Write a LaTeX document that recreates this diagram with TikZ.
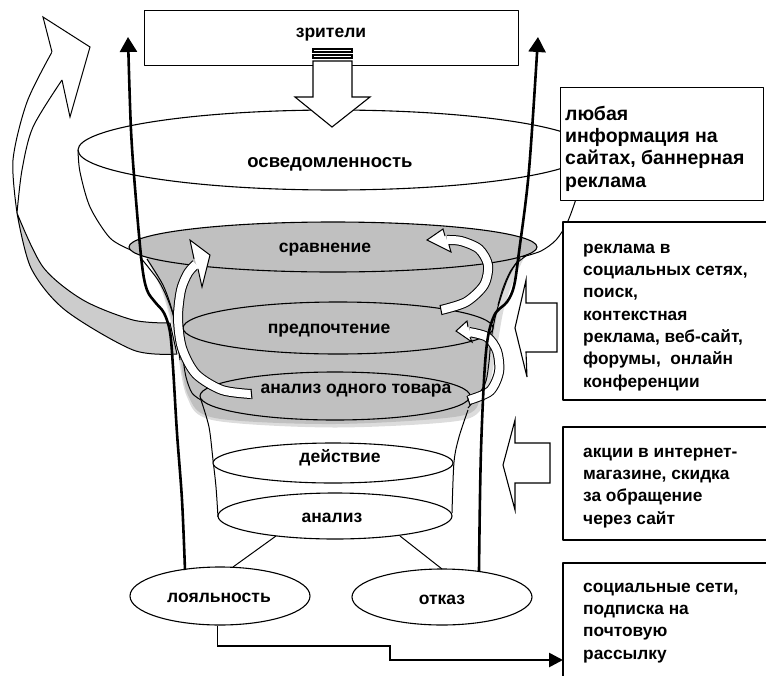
\documentclass[tikz,border=0pt]{standalone}
\usepackage{fontspec}
\setmainfont{Liberation Sans}
\usetikzlibrary{shapes.geometric,arrows.meta}
\definecolor{fgray}{HTML}{C0C0C0}
\definecolor{agray}{HTML}{CCCCCC}
\definecolor{sgray}{HTML}{DCDCDC}
\begin{document}
\begin{tikzpicture}[x=1pt,y=-1pt,line join=round,
  txt/.style={font=\bfseries\fontsize{17.5}{22}\selectfont, inner sep=0pt, anchor=base},
  btxt/.style={font=\bfseries\fontsize{17.3}{22.3}\selectfont, inner sep=0pt, align=left, anchor=north west},
  ell/.style={draw, ellipse, line width=1.1pt, inner sep=0pt},
  thinl/.style={line width=1pt},
  thickarr/.style={line width=2.6pt, -{Triangle[length=15pt,width=17pt]}},
  blockarr/.style={draw, fill=white, line width=1.1pt, line join=miter},
  rbox/.style={draw, fill=white, line width=1.1pt},
  shaftout/.style={line width=10pt, line cap=butt},
  shaftin/.style={line width=8pt, white, line cap=butt},
]
\useasboundingbox (0,0) rectangle (766,675);

% ---------- big curved arrow on the left ----------
\filldraw[fill=agray, thinl] plot[smooth] coordinates {(17,213) (31,268) (65,310) (133,350) (177,354)} -- (170,323) -- plot[smooth] coordinates {(170,323) (133,320) (83,300) (43,267) (17,213)} -- cycle;
\filldraw[fill=white, thinl] plot[smooth] coordinates {(52,52) (27,102) (13,160) (17,213)} -- plot[smooth] coordinates {(17,213) (22,170) (33,127) (62,80)};
\fill[white] (43,17) -- (90,47) -- (70,117) -- (62,80) -- (52,52) -- cycle;
\draw[thinl, line join=miter] (52,52) -- (43,17) -- (90,47) -- (70,117) -- (62,80);

% ---------- awareness bowl ----------
\node[ell, minimum width=512pt, minimum height=80pt] (osv) at (334,150) {};
\draw[thinl] plot[smooth] coordinates {(78,150) (80,172) (90,207) (110,238) (131,250)};
\draw[thinl] plot[smooth] coordinates {(580,185) (575,202) (567,223) (556,240) (541,251) (522,257)};

% ---------- gray funnel body ----------
\draw[sgray, line width=7pt] plot[smooth] coordinates {(150,258) (166,292) (179,340) (190,395) (215,417) (335,424) (460,417) (482,397) (492,355) (500,310) (510,280) (520,258)};
\fill[fgray] plot[smooth] coordinates {(145,255) (163,290) (177,340) (188,395) (215,418) (335,424) (460,416) (481,396) (490,355) (498,310) (508,280) (522,255)} -- cycle;
\node[ell, fill=fgray, minimum width=408pt, minimum height=50pt] (sravn) at (333,247) {};
\draw[thinl] plot[smooth] coordinates {(140,257) (158,280) (168,300) (177,327) (182,353) (186,377) (192,393) (201,400)};
\draw[thinl] plot[smooth] coordinates {(147,259) (163,285) (172,310) (177,337) (180,360)};
\draw[thinl] plot[smooth] coordinates {(526,256) (515,265) (507,280) (500,300) (495,318) (491,340) (489,362) (486,381) (479,394) (468,408)};
\draw[thinl] plot[smooth] coordinates {(520,258) (510,272) (503,288) (498,305)};
\node[ell, fill=fgray, minimum width=310pt, minimum height=52pt] (pred) at (338,328) {};
\node[ell, fill=fgray, minimum width=270pt, minimum height=48pt] (odin) at (335,396) {};

% ---------- lower cylinder ----------
\draw[thinl] plot[smooth] coordinates {(201,400) (209,427) (213,460) (216,487) (218,517)};
\draw[thinl] plot[smooth] coordinates {(468,410) (459,437) (454,462) (452,513)};
\node[ell, fill=white, minimum width=240pt, minimum height=40pt] (deys) at (333,463) {};
\node[ell, fill=white, minimum width=234pt, minimum height=46pt] (anal) at (335,516) {};
\node[ell, fill=white, minimum width=180pt, minimum height=58pt] (loy) at (220,596) {};
\node[ell, fill=white, minimum width=180pt, minimum height=56pt] (otk) at (442,597) {};

\coordinate (an1) at (276,536);
\coordinate (lo1) at (233,567);
\coordinate (an2) at (400,536);
\coordinate (ot1) at (442,569);
\draw[thinl] (an1) -- (lo1);
\draw[thinl] (an2) -- (ot1);

% bottom connector to the last box
\coordinate (lo2) at (217,646);
\coordinate (st1) at (390,646);
\coordinate (st2) at (390,660);
\coordinate (bx4) at (563,660);
\draw[thinl] (loy.south) ++(-3,0) -- ++(0,20);
\draw[line width=2.6pt, line join=miter, -{Triangle[length=14pt,width=14pt]}] (lo2) -- (st1) -- (st2) -- (bx4);

% ---------- curved white arrows in the funnel ----------
\draw[shaftout] plot[smooth] coordinates {(251,394) (222,390) (196,374) (182,348) (178,318) (181,290) (188,273) (196,264)};
\draw[shaftin] plot[smooth] coordinates {(251,394) (222,390) (196,374) (182,348) (178,318) (181,290) (188,273) (196,264)};
\draw[thinl] (251,389) -- (252,399);
\fill[white] (190,240) -- (210,255) -- (202,287) -- cycle;
\draw[thinl, line join=miter] (194,259) -- (190,240) -- (210,255) -- (202,287) -- (198,269);
\draw[shaftout] plot[smooth] coordinates {(441,310) (466,302) (484,285) (488,265) (479,249) (461,241) (447,240)};
\draw[shaftin] plot[smooth] coordinates {(441,310) (466,302) (484,285) (488,265) (479,249) (461,241) (447,240)};
\draw[thinl] (440,305) -- (442,315);
\fill[white] (443,229) -- (427,240) -- (451,252) -- cycle;
\draw[thinl, line join=miter] (445,236) -- (443,229) -- (427,240) -- (451,252) -- (449,245);
\draw[shaftout] plot[smooth] coordinates {(469,400) (490,391) (499,372) (497,351) (487,337) (469,332)};
\draw[shaftin] plot[smooth] coordinates {(469,400) (490,391) (499,372) (497,351) (487,337) (469,332)};
\draw[thinl] (467,396) -- (470,405);
\fill[white] (467,321) -- (456,331) -- (472,342) -- cycle;
\draw[thinl, line join=miter] (468,327) -- (467,321) -- (456,331) -- (472,342) -- (470,337);

% ---------- long thick arrows ----------
\coordinate (lup) at (128,37);
\coordinate (rup) at (538,37);
\draw[thickarr] plot[smooth, tension=0.55] coordinates {(185,570) (182,500) (177,433) (173,367) (170,332) (164,313) (155,302) (147,290) (142,265) (136,200) (131,130) (lup)};
\draw[thickarr] plot[smooth, tension=0.55] coordinates {(479,571) (481,450) (486,352) (494,316) (507,302) (514,286) (519,252) (529,170) (rup)};

% ---------- block arrows pointing left ----------
\draw[blockarr] (557,303) -- (526,303) -- (526,280) -- (515,328) -- (527,377) -- (526,352) -- (557,352) -- cycle;
\draw[blockarr] (550,443) -- (515,443) -- (515,420) -- (503,465) -- (515,510) -- (515,483) -- (550,483) -- cycle;

% ---------- top box and arrow ----------
\node[rbox, minimum width=374pt, minimum height=55pt, anchor=north west] (zrit) at (144,10) {};
\draw[blockarr] (313,61) -- (352,61) -- (352,97) -- (370,97) -- (332,127) -- (295,97) -- (313,97) -- cycle;
\draw[blockarr] (313,49) rectangle (352,52);
\draw[blockarr] (313,55) rectangle (352,58);

% ---------- right boxes ----------
\node[rbox, minimum width=203pt, minimum height=113pt, anchor=north west] (b1) at (560,87) {};
\fill[white] (563,222) rectangle (766,400);
\draw[line width=1.1pt] (766,222) -- (563,222) -- (563,400) -- (766,400);
\fill[white] (563,427) rectangle (766,540);
\draw[line width=1.1pt] (766,427) -- (563,427) -- (563,540) -- (766,540);
\draw[line width=1.1pt] (766,563) -- (563,563) -- (563,676);

% ---------- texts ----------
\node[txt] (tz) at (331,37) {зрители};
\node[txt, font=\bfseries\fontsize{18.5}{22}\selectfont] (t1) at (330,167) {осведомленность};
\node[txt] (t2) at (325,252) {сравнение};
\node[txt] (t3) at (329,333) {предпочтение};
\node[txt] (t4) at (356,393) {анализ одного товара};
\node[txt] (t5) at (340,462) {действие};
\node[txt] (t6) at (332,522) {анализ};
\node[txt] (t7) at (219,602) {лояльность};
\node[txt] (t8) at (442,604) {отказ};
\node[btxt, font=\bfseries\fontsize{19.5}{22.3}\selectfont] (tb1) at (565,104) {\rule{0pt}{16pt}любая\\информация на\\сайтах, баннерная\\реклама};
\node[btxt] (tb2) at (583,237) {\rule{0pt}{16pt}реклама в\\социальных сетях,\\поиск,\\контекстная\\реклама, веб-сайт,\\форумы,\ \ онлайн\\конференции};
\node[btxt] (tb3) at (583,441) {\rule{0pt}{16pt}акции в интернет-\\магазине, скидка\\за обращение\\через сайт};
\node[btxt] (tb4) at (583,576) {\rule{0pt}{16pt}социальные сети,\\подписка на\\почтовую\\рассылку};
\end{tikzpicture}
\end{document}
